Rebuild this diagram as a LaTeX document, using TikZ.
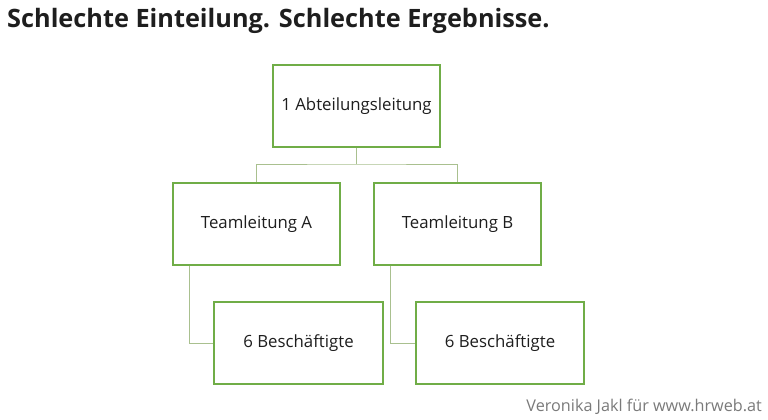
\documentclass[tikz,border=0pt]{standalone}
\usepackage{fontspec}
\setmainfont{Open Sans}
\definecolor{boxgreen}{HTML}{70AD47}
\definecolor{linegreen}{HTML}{A9C08F}
\definecolor{txt}{HTML}{1E1E1E}
\definecolor{foot}{HTML}{7A7A7A}
\begin{document}
\begin{tikzpicture}[x=1pt,y=-1pt,
  orgbox/.style={draw=boxgreen,line width=1.3pt,fill=white,minimum width=167pt,minimum height=82pt,inner sep=0pt,text=txt,font=\fontsize{16.8}{20}\selectfont},
  conn/.style={draw=linegreen,line width=1pt}]
\useasboundingbox (0,0) rectangle (768,420);
\node[anchor=west,text=txt,font=\fontsize{25.3}{30}\selectfont\bfseries,inner sep=0pt] (title) at (7,21) {Schlechte Einteilung. Schlechte Ergebnisse.};
\node[orgbox] (top) at (356.5,106) {1 Abteilungsleitung};
\node[orgbox] (ta) at (256.5,224) {Teamleitung A};
\node[orgbox] (tb) at (457.5,224) {Teamleitung B};
\node[orgbox,minimum width=169pt] (ba) at (298.5,343) {6 Beschäftigte};
\node[orgbox,minimum width=168pt] (bb) at (500,343) {6 Beschäftigte};
\coordinate (j) at (356.5,164);
\draw[conn] (top.south) -- (j);
\draw[conn] (ta.north) |- (j) -| (tb.north);
\draw[conn] (ta.south west) ++(17,0) coordinate (ta1) |- (ba.west);
\draw[conn] (tb.south west) ++(17,0) coordinate (tb1) |- (bb.west);
\node[anchor=east,text=foot,font=\fontsize{16.2}{19}\selectfont,inner sep=0pt] (footer) at (762,407) {Veronika Jakl für www.hrweb.at};
\end{tikzpicture}
\end{document}
